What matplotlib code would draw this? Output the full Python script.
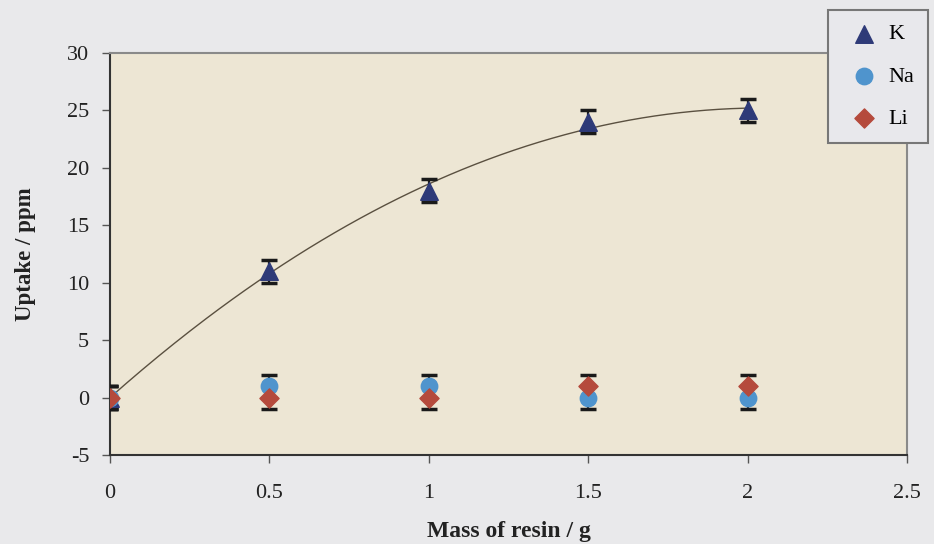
import numpy as np
import matplotlib.pyplot as plt

plt.rcParams['font.family'] = ['Liberation Serif', 'DejaVu Serif']
plt.rcParams['axes.unicode_minus'] = False

mass = [0, 0.5, 1, 1.5, 2]
k_uptake = [0, 11, 18, 24, 25]
na_uptake = [0, 1, 1, 0, 0]
li_uptake = [0, 0, 0, 1, 1]
err = [1, 1, 1, 1, 1]

fig = plt.figure(figsize=(9.34, 5.44), dpi=100)
fig.patch.set_facecolor('#e9e9eb')
ax = fig.add_axes([0.1178, 0.1636, 0.8533, 0.739])
ax.set_facecolor('#ede6d4')

# second order trend line through the K points
coef = np.polyfit(mass, k_uptake, 2)
xs = np.linspace(0, 2, 200)
ax.plot(xs, np.polyval(coef, xs), color='#5a5040', lw=1.0, zorder=2)

eb = dict(fmt='none', ecolor='#1a1a1a', elinewidth=1.6, capsize=6, capthick=2.5, zorder=3)
ax.errorbar(mass, k_uptake, yerr=err, **eb)
ax.errorbar(mass, na_uptake, yerr=err, **eb)
ax.errorbar(mass, li_uptake, yerr=err, **eb)

ax.scatter(mass, k_uptake, marker='^', s=160, color='#2e3a78', zorder=4, label='K')
ax.scatter(mass, na_uptake, marker='o', s=140, color='#4f94cd', zorder=4, label='Na')
ax.scatter(mass, li_uptake, marker='D', s=95, color='#b54a3c', zorder=5, label='Li')

ax.set_xlim(0, 2.5)
ax.set_ylim(-5, 30)
ax.set_xticks([0, 0.5, 1, 1.5, 2, 2.5])
ax.set_xticklabels(['0', '0.5', '1', '1.5', '2', '2.5'])
ax.set_yticks(range(-5, 31, 5))

for side in ['left', 'bottom']:
    ax.spines[side].set_color('#333333')
    ax.spines[side].set_linewidth(1.5)
for side in ['top', 'right']:
    ax.spines[side].set_color('#8a8a8a')
    ax.spines[side].set_linewidth(1.5)

ax.tick_params(axis='both', direction='out', length=6, width=1, color='#555555',
               labelsize=16, labelcolor='#222222', pad=9)
ax.tick_params(axis='x', pad=15)

ax.set_xlabel('Mass of resin / g', fontsize=17, fontweight='bold', labelpad=13, color='#222222')
ax.set_ylabel('Uptake / ppm', fontsize=16.5, fontweight='bold', labelpad=22, color='#222222')

leg = fig.legend(loc='upper left', bbox_to_anchor=(828 / 934, 1 - 10 / 544), fontsize=16,
                 frameon=True, fancybox=False, handletextpad=0.1, handlelength=2.0,
                 labelspacing=0.98, borderpad=0.62, borderaxespad=0, scatterpoints=1)
leg.get_frame().set_facecolor('#e8e8ec')
leg.get_frame().set_edgecolor('#777777')
leg.get_frame().set_linewidth(1.5)
leg.get_frame().set_alpha(1)

fig.savefig('out.png', dpi=100, facecolor=fig.get_facecolor())
